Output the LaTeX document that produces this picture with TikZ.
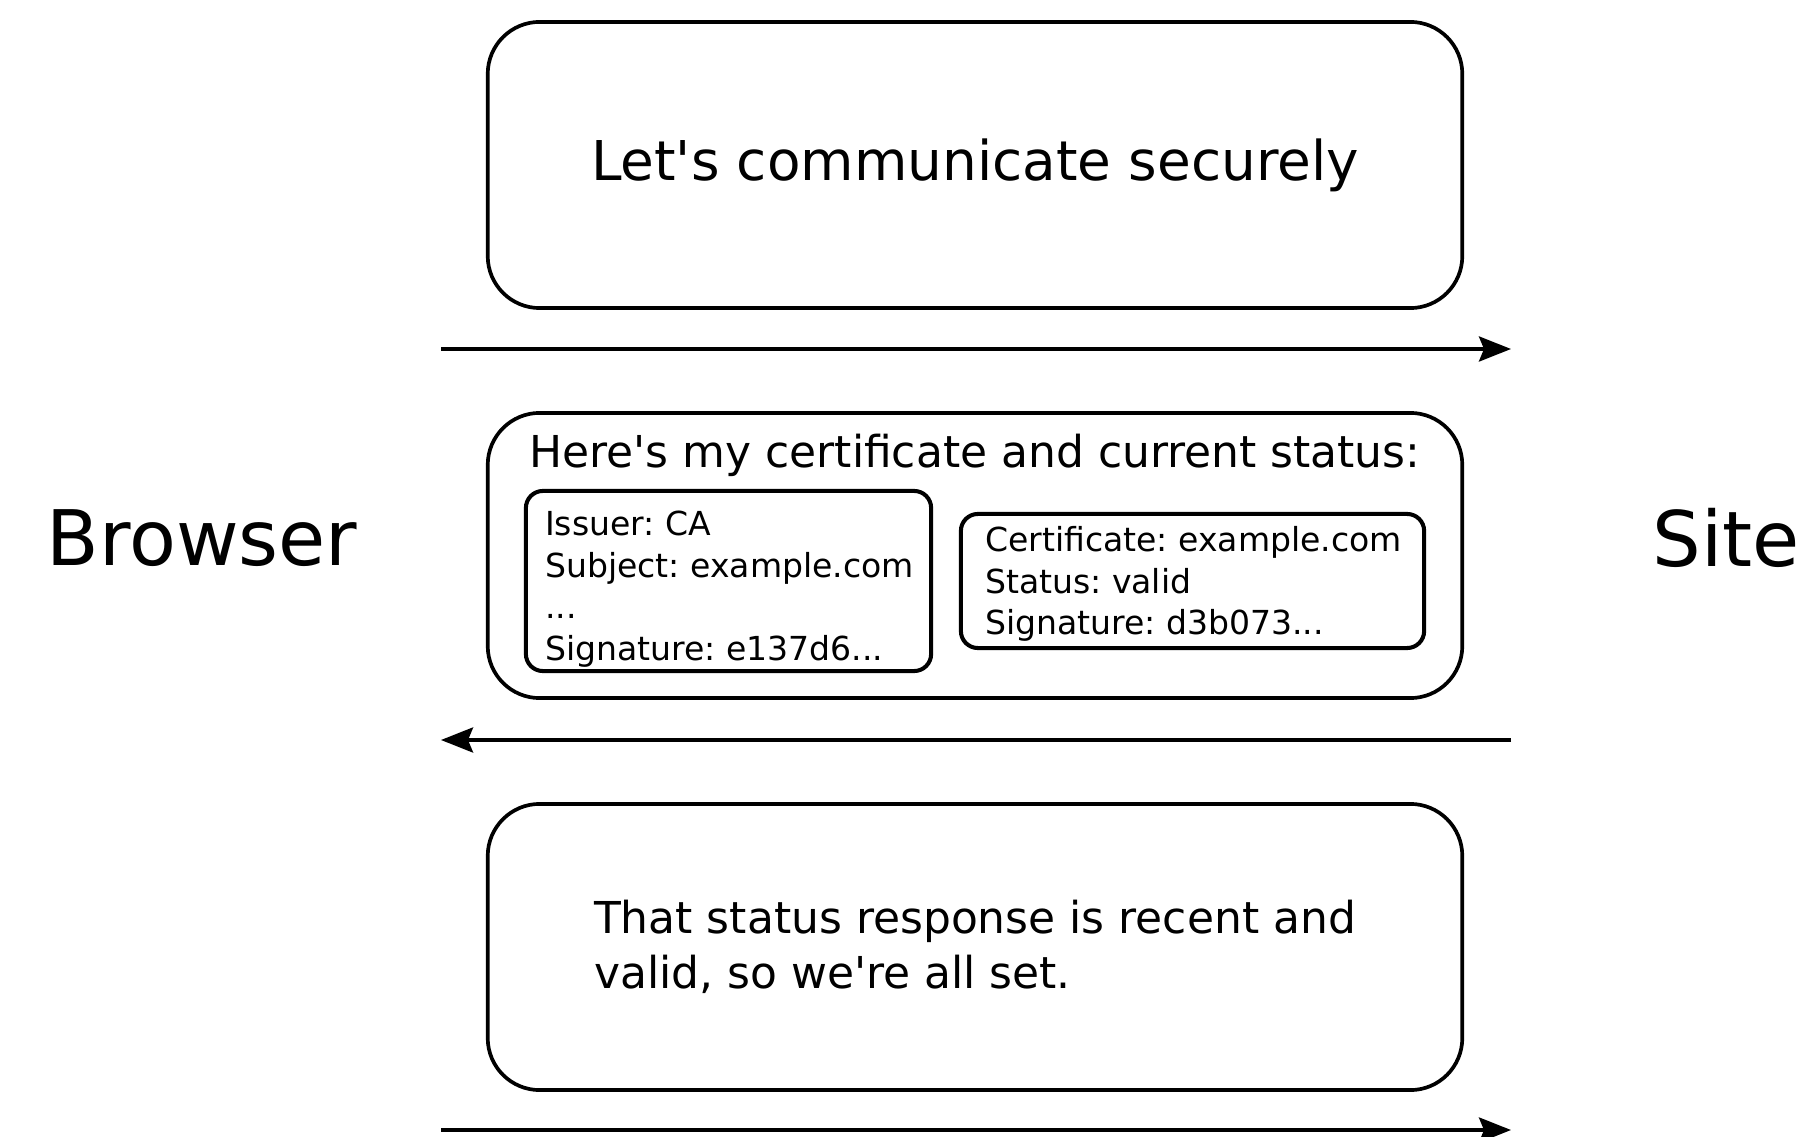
\documentclass[tikz,border=0pt]{standalone}
\usepackage{fontspec}
\setmainfont{DejaVu Sans}[Ligatures=TeXOff]
\usetikzlibrary{arrows.meta}
\frenchspacing
\begin{document}
\begin{tikzpicture}[x=0.01cm,y=-0.01cm,
  msgbox/.style={draw,line width=1.05pt,rounded corners=0.52cm,
    minimum width=9.74cm,minimum height=2.86cm,inner sep=0pt},
  databox/.style={draw,line width=1.15pt,rounded corners=0.17cm,inner sep=0pt},
  datatext/.style={inner sep=0pt,align=left,font=\fontsize{9.4pt}{11.8pt}\selectfont},
  flow/.style={line width=1.05pt,-{Stealth[length=0.32cm,width=0.25cm,inset=0.05cm]}},
  party/.style={font=\fontsize{21.8pt}{26pt}\selectfont,inner sep=0pt,anchor=west},
  msgtext/.style={inner sep=0pt,align=left}]
\useasboundingbox (0,0) rectangle (1804,1137);

% the two parties
\node[party] (browser) at (46,538) {Browser};
\node[party] (site) at (1652,538) {Site};

% message 1: browser -> site
\node[msgbox] (hello) at (975,165) {};
\node[msgtext,font=\fontsize{15.6pt}{18pt}\selectfont] (hellotext) at (975,165) {Let's communicate securely};
\coordinate (b1) at (441,349);
\coordinate (s1) at (1511,349);
\draw[flow] (b1) -- (s1);

% message 2: site -> browser, certificate plus stapled status
\node[msgbox,minimum height=2.85cm] (reply) at (975,555.5) {};
\node[inner sep=0pt,font=\fontsize{12.5pt}{15pt}\selectfont] (replytitle) at (975,455.5) {Here's my certificate and current status:};
\node[databox,minimum width=4.05cm,minimum height=1.8cm] (cert) at (728.5,581) {};
\node[datatext] (certtext) at (729.5,589)
  {Issuer: CA\\Subject: example.com\\...\\Signature: e137d6...};
\node[databox,minimum width=4.63cm,minimum height=1.34cm] (status) at (1192.5,581) {};
\node[datatext] (statustext) at (1193.5,584)
  {Certificate: example.com\\Status: valid\\Signature: d3b073...};
\coordinate (s2) at (1511,740);
\coordinate (b2) at (441,740);
\draw[flow] (s2) -- (b2);

% message 3: browser -> site
\node[msgbox] (ok) at (975,947) {};
\node[msgtext,font=\fontsize{12.5pt}{15.65pt}\selectfont] (oktext) at (975,947) {That status response is recent and\\valid, so we're all set.};
\coordinate (b3) at (441,1130);
\coordinate (s3) at (1511,1130);
\draw[flow] (b3) -- (s3);
\end{tikzpicture}
\end{document}
